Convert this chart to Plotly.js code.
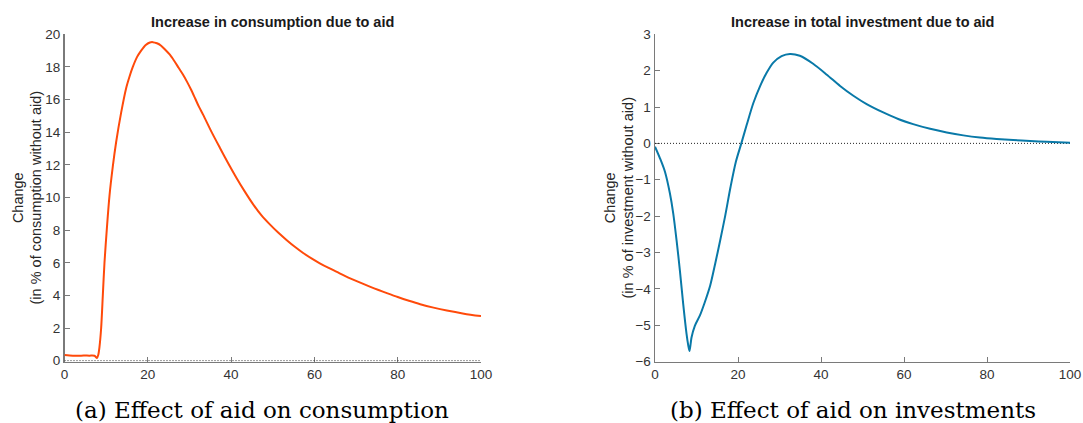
<!DOCTYPE html>
<html>
<head>
<meta charset="utf-8">
<script src="https://cdn.plot.ly/plotly-3.0.1.min.js"></script>
<style>
  html, body { margin: 0; padding: 0; background: #ffffff; }
  #chart { width: 1083px; height: 423px; }
</style>
</head>
<body>
<div id="chart"></div>
<script>
// Periods and percentage change in consumption relative to the no-aid path
const consPeriod = [0, 2, 4, 6, 7.2, 7.8, 8.1, 8.4, 8.8, 9.2, 9.6, 10.2, 10.8, 11.6, 12.4, 13.6, 14.8, 15.6,
  16.4, 17.4, 18.4, 19.5, 20.5, 21.2, 22.2, 23.2, 24.2, 25.3, 26.4, 27.4, 28.4, 29.4, 30.4, 31.4, 32.3,
  33.3, 35.3, 37.3, 39.3, 41.3, 43.3, 45.3, 47.3, 49.3, 51.3, 53.3, 55.3, 57.3, 59.3, 61.3, 63.3, 65.4,
  67.3, 69.3, 71.3, 73.3, 75.4, 77.4, 80, 82.7, 85.4, 88.6, 91.8, 95.9, 100];
const consChange = [0.35, 0.31, 0.31, 0.31, 0.30, 0.17, 0.35, 0.85, 2.0, 4.0, 6.0, 8.2, 10.1, 11.9, 13.4, 15.2,
  16.7, 17.4, 18.0, 18.6, 19.0, 19.35, 19.5, 19.52, 19.45, 19.3, 19.05, 18.75, 18.35, 17.95, 17.55, 17.1,
  16.6, 16.05, 15.55, 15.06, 14.02, 13.05, 12.1, 11.2, 10.36, 9.58, 8.9, 8.35, 7.85, 7.4, 6.98, 6.6, 6.27,
  5.97, 5.7, 5.44, 5.2, 4.97, 4.75, 4.54, 4.33, 4.14, 3.9, 3.67, 3.46, 3.25, 3.07, 2.88, 2.73];

// Periods and percentage change in total investment relative to the no-aid path
const invPeriod = [0, 1.2, 2.4, 3.6, 4.4, 5.2, 6.0, 6.8, 7.6, 8.0, 8.3, 8.6, 8.8, 9.6, 10.8, 12.0, 13.3, 14.5,
  15.7, 16.9, 18.2, 19.5, 20.8, 22.1, 23.7, 25.3, 26.9, 28.5, 30.5, 32.5, 34.9, 38.1, 41.4, 44.6, 47.8,
  51.0, 55.0, 58.6, 62.2, 66.3, 70.3, 74.3, 78.3, 82.3, 86.3, 90.4, 94.4, 100];
const invChange = [-0.09, -0.41, -0.78, -1.38, -1.93, -2.67, -3.5, -4.42, -5.24, -5.55, -5.71, -5.5, -5.34,
  -5.02, -4.74, -4.37, -3.91, -3.31, -2.67, -2.0, -1.2, -0.5, 0.0, 0.51, 1.11, 1.57, 1.94, 2.22, 2.4, 2.46,
  2.41, 2.19, 1.89, 1.58, 1.31, 1.08, 0.85, 0.67, 0.53, 0.4, 0.3, 0.22, 0.16, 0.12, 0.09, 0.065, 0.045, 0.02];

// Reference line at zero change
const baselinePeriod = [0, 100];
const baselineChange = [0, 0];

// Tick values
const periodTicks = [0, 20, 40, 60, 80, 100];
const consTicks = [0, 2, 4, 6, 8, 10, 12, 14, 16, 18, 20];
const invTicks = [-6, -5, -4, -3, -2, -1, 0, 1, 2, 3];

// Text
const panelTitles = ['Increase in consumption due to aid', 'Increase in total investment due to aid'];
const yTitles = ['Change<br>(in % of consumption without aid)', 'Change<br>(in % of investment without aid)'];
const captions = ['(a) Effect of aid on consumption', '(b) Effect of aid on investments'];

const W = 1083, H = 423;
const px = v => v / W;
const py = v => 1 - v / H;

const axisGrey = '#7a7a7a';
const tickFont = { family: 'Liberation Sans, Arial, sans-serif', size: 13.5, color: '#333333' };

function xAxis(domain, anchor) {
  return {
    domain: domain, anchor: anchor, range: [0, 100], tickvals: periodTicks,
    ticks: 'inside', ticklen: 5, tickwidth: 1, tickcolor: axisGrey,
    showline: true, linecolor: axisGrey, linewidth: 1.5, mirror: false,
    showgrid: false, zeroline: false, tickfont: tickFont, layer: 'below traces',
    fixedrange: true
  };
}
function yAxis(domain, anchor, range, ticks) {
  return {
    domain: domain, anchor: anchor, range: range, tickvals: ticks,
    ticks: 'inside', ticklen: 5, tickwidth: 1, tickcolor: axisGrey,
    showline: true, linecolor: axisGrey, linewidth: 1.5, mirror: false,
    showgrid: false, zeroline: false, tickfont: tickFont, layer: 'below traces',
    fixedrange: true
  };
}

const dotted = { color: '#222222', width: 1, dash: '1px,2px' };
const traces = [
  { x: baselinePeriod, y: baselineChange, xaxis: 'x', yaxis: 'y', mode: 'lines',
    line: dotted, hoverinfo: 'skip' },
  { x: consPeriod, y: consChange, xaxis: 'x', yaxis: 'y', mode: 'lines',
    line: { color: '#ff4a0a', width: 2, shape: 'spline', smoothing: 0.8 } },
  { x: baselinePeriod, y: baselineChange, xaxis: 'x2', yaxis: 'y2', mode: 'lines',
    line: dotted, hoverinfo: 'skip' },
  { x: invPeriod, y: invChange, xaxis: 'x2', yaxis: 'y2', mode: 'lines',
    line: { color: '#0979a8', width: 2, shape: 'spline', smoothing: 0.8 } }
];

const leftX = [px(64.5), px(481)];
const rightX = [px(655), px(1070)];
const plotY = [py(361.5), py(34.3)];

const titleFont = { family: 'Liberation Sans, Arial, sans-serif', size: 14.5, color: '#1a1a1a' };
const yTitleFont = { family: 'Liberation Sans, Arial, sans-serif', size: 14.5, color: '#262626' };
const captionFont = { family: 'DejaVu Serif, serif', size: 23, color: '#000000' };

const annotations = [
  { text: '<b>' + panelTitles[0] + '</b>', x: (leftX[0] + leftX[1]) / 2, y: py(22) },
  { text: '<b>' + panelTitles[1] + '</b>', x: (rightX[0] + rightX[1]) / 2, y: py(22) },
].map(a => Object.assign(a, { xref: 'paper', yref: 'paper', showarrow: false, font: titleFont,
  xanchor: 'center', yanchor: 'middle' }));

annotations.push(
  { text: yTitles[0], x: px(26.5), y: py(198), textangle: -90 },
  { text: yTitles[1], x: px(618.5), y: py(198), textangle: -90 }
);
for (let i = 2; i < 4; i++) Object.assign(annotations[i], { xref: 'paper', yref: 'paper', showarrow: false,
  font: yTitleFont, xanchor: 'center', yanchor: 'middle', align: 'center' });

annotations.push(
  { text: captions[0], x: px(262), y: py(410) },
  { text: captions[1], x: px(852.5), y: py(410) }
);
for (let i = 4; i < 6; i++) Object.assign(annotations[i], { xref: 'paper', yref: 'paper', showarrow: false,
  font: captionFont, xanchor: 'center', yanchor: 'middle' });

const layout = {
  width: W, height: H,
  margin: { l: 0, r: 0, t: 0, b: 0, pad: 0 },
  paper_bgcolor: '#ffffff', plot_bgcolor: '#ffffff',
  showlegend: false,
  xaxis: xAxis(leftX, 'y'),
  yaxis: yAxis(plotY, 'x', [-0.05, 20], consTicks),
  xaxis2: xAxis(rightX, 'y2'),
  yaxis2: yAxis(plotY, 'x2', [-6, 3], invTicks),
  annotations: annotations
};

Plotly.newPlot('chart', traces, layout, { staticPlot: true, displayModeBar: false });
</script>
</body>
</html>
